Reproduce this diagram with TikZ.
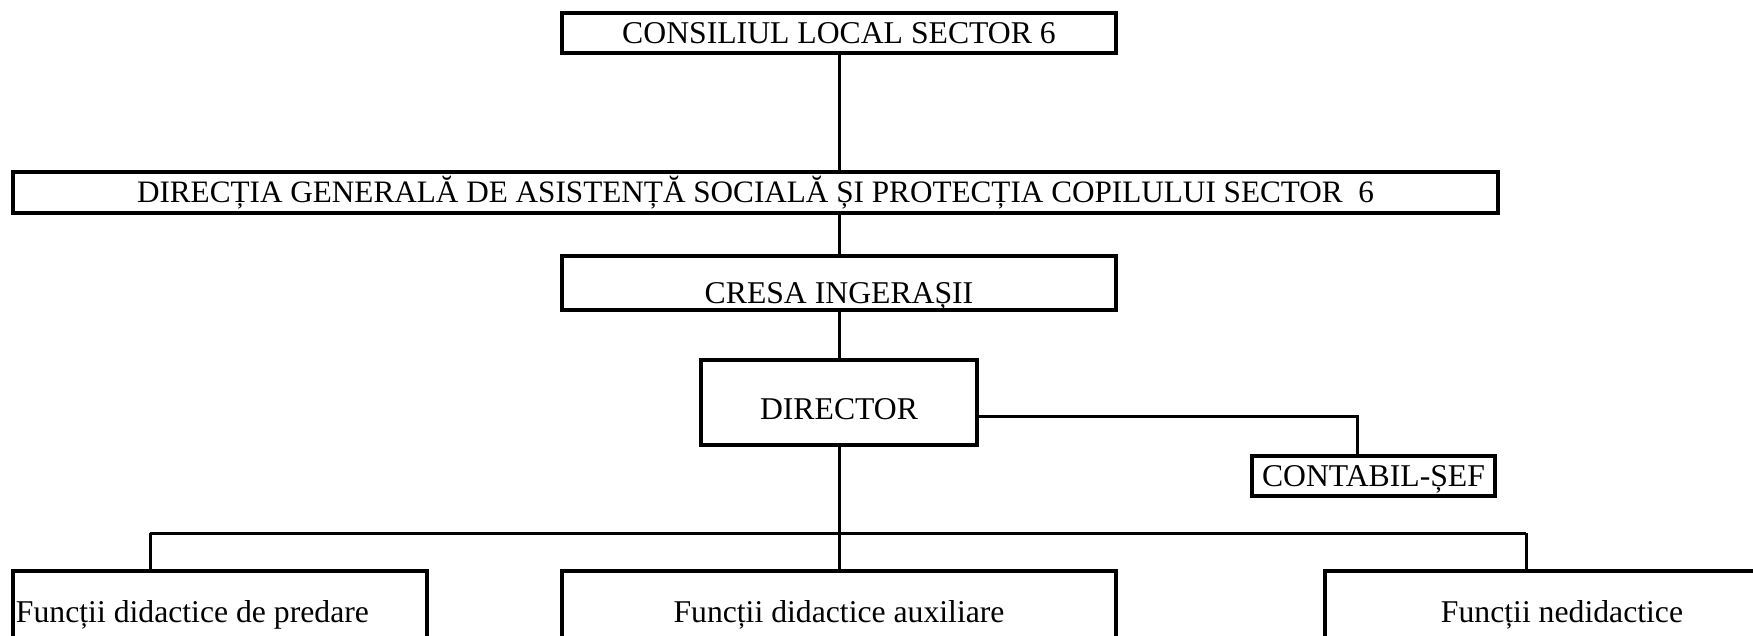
\documentclass[tikz,border=0pt]{standalone}
\usepackage{fontspec}
\setmainfont{Liberation Serif}
\usepackage{tikz}
\usetikzlibrary{calc, positioning}

\tikzset{
  caseta/.style={draw, line width=3.2pt, inner sep=2pt, align=center,
    text height=21pt, text depth=0pt,
    font=\fontsize{31.7}{38}\selectfont},
  legatura/.style={line width=3pt}
}

\begin{document}
\begin{tikzpicture}[x=1pt,y=-1pt]

            \useasboundingbox (0,0) rectangle (1753,636);
            \clip (0,0) rectangle (1753,636);

            % Casetele de sus
            \node[caseta, minimum width=554pt, minimum height=40pt] (consiliu) at (839,33) {CONSILIUL LOCAL SECTOR 6};
            \node[caseta, minimum width=1485pt, minimum height=41pt, font=\fontsize{31.2}{38}\selectfont] (dgaspc) at (755.5,192.5) {DIRECȚIA GENERALĂ DE ASISTENȚĂ SOCIALĂ ȘI PROTECȚIA COPILULUI SECTOR ~6};
            \node[caseta, minimum width=554pt, minimum height=54pt, text height=40pt] (cresa) at (839,283) {CRESA INGERAȘII};
            \node[caseta, minimum width=276pt, minimum height=85pt, text height=33pt] (director) at (839,402.5) {DIRECTOR};
            \node[caseta, minimum width=243pt, minimum height=40pt] (contabil) at (1373.5,476) {CONTABIL-ȘEF};

            % Casetele de jos
            \node[caseta, minimum width=414pt, minimum height=74pt, text height=29pt] (predare) at (220,608) {\makebox[408pt][l]{Funcții didactice de predare}};
            \node[caseta, minimum width=554pt, minimum height=74pt, text height=29pt] (auxiliare) at (839,608) {Funcții didactice auxiliare};
            \node[caseta, minimum width=474pt, minimum height=74pt, text height=29pt] (nedidactice) at (1562,608) {Funcții nedidactice};

            % Legaturi
            \draw[legatura] (consiliu.south) -- (consiliu.south |- dgaspc.north);
            \draw[legatura] (cresa.north |- dgaspc.south) -- (cresa.north);
            \draw[legatura] (cresa.south) -- (director.north);

            \coordinate (dr) at ([yshift=-13.5pt]director.east);
            \coordinate (cb) at ([xshift=-16.5pt]contabil.north);
            \draw[legatura] (dr) -- (dr -| cb) -- (cb);

            \coordinate (busL) at (150,533);
            \coordinate (busR) at (1526,533);
            \draw[legatura] (director.south) -- (auxiliare.north);
            \draw[legatura] (busL) -- (busR);
            \draw[legatura] (busL) -- (busL |- predare.north);
            \draw[legatura] (busR) -- (busR |- nedidactice.north);

\end{tikzpicture}
\end{document}
